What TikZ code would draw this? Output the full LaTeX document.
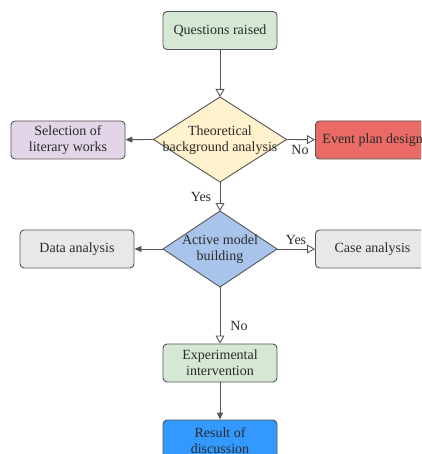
\documentclass[tikz,border=0pt]{standalone}
\usepackage{fontspec}
\setmainfont{Liberation Serif}
\usetikzlibrary{shapes.geometric,arrows.meta}
\definecolor{gfill}{HTML}{D5E8D4}
\definecolor{yfill}{HTML}{FFF2CC}
\definecolor{pfill}{HTML}{E1D5E7}
\definecolor{rfill}{HTML}{EA6B66}
\definecolor{grfill}{HTML}{E8E8E8}
\definecolor{bfill}{HTML}{A9C4EB}
\definecolor{dfill}{HTML}{3399FF}
\definecolor{edge}{HTML}{555555}
\definecolor{txt}{HTML}{2A2A2A}
\tikzset{
  box/.style={draw=edge, line width=0.9pt, rounded corners=4pt, minimum width=114pt, minimum height=38pt, align=center, font=\fontsize{14}{16}\selectfont, text=txt, inner sep=1pt},
  dia/.style={draw=edge, line width=0.9pt},
  conn/.style={draw=edge, line width=0.9pt},
  openarr/.style={conn, -{Triangle[open, length=8pt, width=9pt, fill=white]}},
  fillarr/.style={conn, -{Triangle[length=7pt, width=6pt]}},
  lbl/.style={font=\fontsize{14}{16}\selectfont, text=txt, inner sep=0pt}
}
\begin{document}
\begin{tikzpicture}[x=1pt,y=-1pt]
\useasboundingbox (0,0) rectangle (421,454);
\clip (0,0) rectangle (421,454);
\node[box, fill=gfill] (q) at (220,30.5) {Questions raised};
\draw[dia, fill=yfill] (220,97) -- (286.5,139.5) -- (220,182) -- (153.5,139.5) -- cycle;
\node[lbl, align=center] (d1) at (220,140) {Theoretical\\background analysis};
\coordinate (d1t) at (220,97);
\coordinate (d1b) at (220,182);
\coordinate (d1l) at (153.5,139.5);
\coordinate (d1r) at (286.5,139.5);
\node[box, fill=pfill] (sel) at (68,140) {Selection of\\literary works};
\node[box, fill=rfill, anchor=west, minimum width=0pt, inner xsep=7pt] (ev) at (315,140) {Event plan design};
\draw[dia, fill=bfill] (220,211) -- (277,249) -- (220,287) -- (163,249) -- cycle;
\node[lbl, align=center] (d2) at (220,249) {Active model\\building};
\coordinate (d2t) at (220,211);
\coordinate (d2b) at (220,287);
\coordinate (d2l) at (163,249);
\coordinate (d2r) at (277,249);
\node[box, fill=grfill] (da) at (77,249) {Data analysis};
\node[box, fill=grfill, anchor=west, minimum width=114pt] (ca) at (315,249) {Case analysis};
\node[box, fill=gfill] (ex) at (220,363) {Experimental\\intervention};
\node[box, fill=dfill, minimum height=42pt] (res) at (220,441) {Result of\\discussion};
\draw[openarr] (q) -- (d1t);
\draw[fillarr] (d1l) -- (sel);
\draw[openarr] (d1r) -- (ev);
\draw[openarr] (d1b) -- (d2t);
\draw[fillarr] (d2l) -- (da);
\draw[openarr] (d2r) -- (ca);
\draw[openarr] (d2b) -- (ex);
\draw[fillarr] (ex) -- (res);
\node[lbl] (no1) at (300,150) {No};
\node[lbl] (yes1) at (201,197) {Yes};
\node[lbl] (yes2) at (296,240) {Yes};
\node[lbl] (no2) at (239,326) {No};
\end{tikzpicture}
\end{document}
